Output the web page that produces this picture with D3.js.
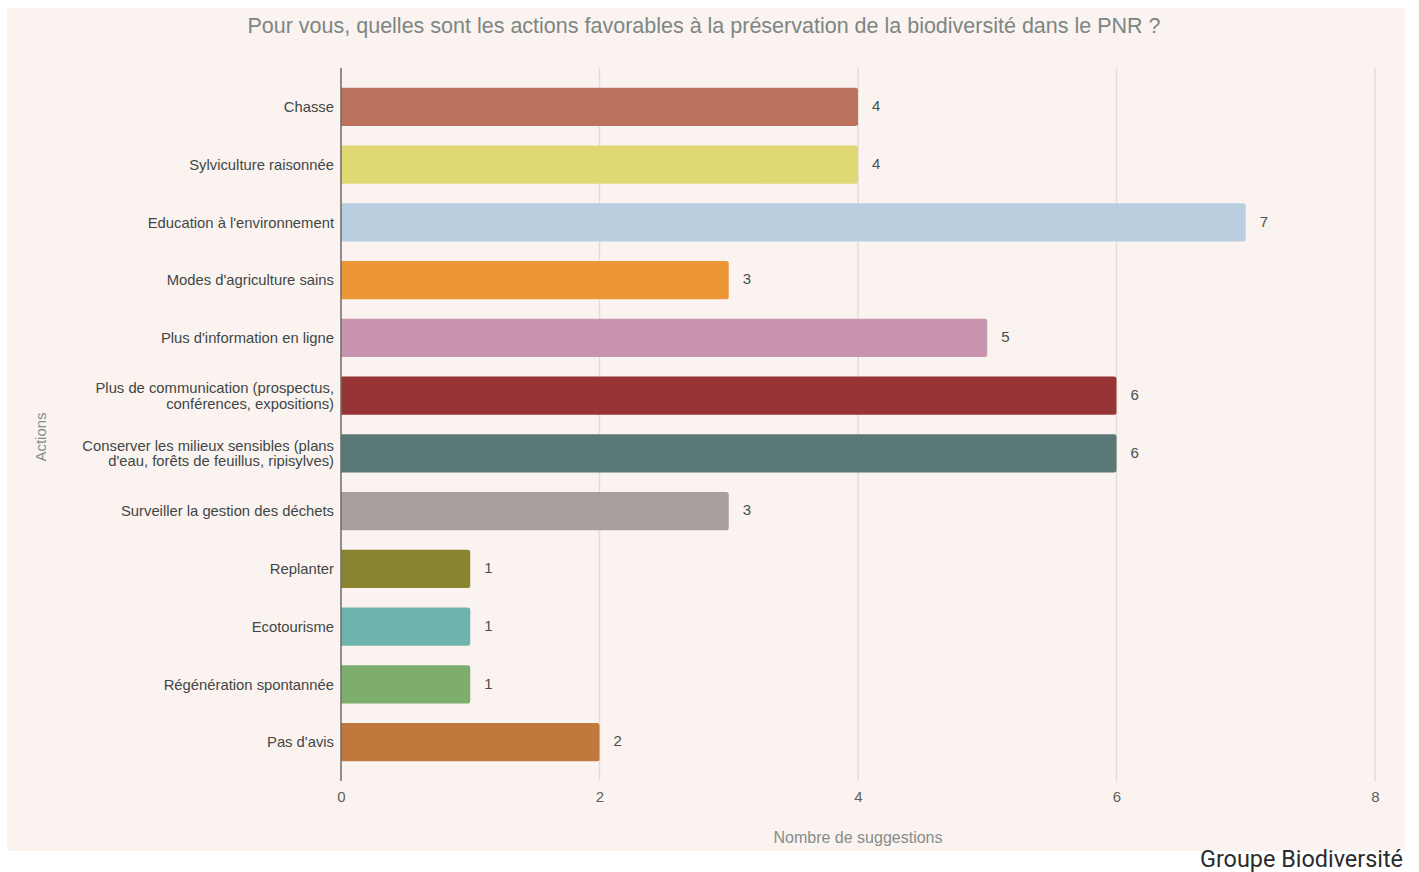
<!DOCTYPE html>
<html>
<head>
<meta charset="utf-8">
<script src="https://cdn.jsdelivr.net/npm/d3@7"></script>
<style>
  html, body { margin: 0; padding: 0; background: #ffffff; }
  svg { display: block; }
</style>
</head>
<body>
<svg id="chart" width="1419" height="872"></svg>
<script>
const categories = [
  "Chasse",
  "Sylviculture raisonnée",
  "Education à l'environnement",
  "Modes d'agriculture sains",
  "Plus d'information en ligne",
  "Plus de communication (prospectus,\nconférences, expositions)",
  "Conserver les milieux sensibles (plans\nd'eau, forêts de feuillus, ripisylves)",
  "Surveiller la gestion des déchets",
  "Replanter",
  "Ecotourisme",
  "Régénération spontannée",
  "Pas d'avis"
];
const values = [4, 4, 7, 3, 5, 6, 6, 3, 1, 1, 1, 2];
const colors = [
  "#bd7260", "#e0d872", "#b9cfe0", "#ec9637", "#c994b0", "#973536",
  "#5a7875", "#a89e9c", "#8a8330", "#6fb4ac", "#7eae6d", "#c1783c"
];
const xTicks = [0, 2, 4, 6, 8];

const title = "Pour vous, quelles sont les actions favorables à la préservation de la biodiversité dans le PNR ?";
const xTitle = "Nombre de suggestions";
const yTitle = "Actions";
const credit = "Groupe Biodiversité";

const svg = d3.select("#chart");
const font = "'Liberation Sans', Arial, Helvetica, sans-serif";

// panel background
svg.append("rect")
  .attr("x", 7).attr("y", 8).attr("width", 1398).attr("height", 843)
  .attr("fill", "#fbf3f0");

const x = d3.scaleLinear().domain([0, 8]).range([341, 1375]);
const y = d3.scaleBand().domain(categories).range([78, 771]).paddingInner(0.34).paddingOuter(0.17);

const plotTop = 68, plotBottom = 781;

// vertical gridlines
svg.append("g").selectAll("line").data(xTicks.filter(d => d > 0)).join("line")
  .attr("x1", d => x(d)).attr("x2", d => x(d))
  .attr("y1", plotTop).attr("y2", plotBottom)
  .attr("stroke", "#e2dcda").attr("stroke-width", 1.5);

// x axis tick labels
const xAxis = d3.axisBottom(x).tickValues(xTicks).tickSize(0).tickPadding(10);
const gx = svg.append("g").attr("transform", `translate(0,${plotBottom})`).call(xAxis);
gx.select(".domain").remove();
gx.selectAll("text").attr("font-family", font).attr("font-size", 15).attr("fill", "#5a605e");

// bars, with a slight rounding on the value end
svg.append("g").selectAll("path").data(categories).join("path")
  .attr("d", (d, i) => {
    const x0 = x(0), x1 = x(values[i]), y0 = y(d), h = y.bandwidth(), r = 2.5;
    return `M${x0},${y0}H${x1 - r}Q${x1},${y0} ${x1},${y0 + r}V${y0 + h - r}Q${x1},${y0 + h} ${x1 - r},${y0 + h}H${x0}Z`;
  })
  .attr("fill", (d, i) => colors[i]);

// value labels
svg.append("g").selectAll("text").data(categories).join("text")
  .attr("x", (d, i) => x(values[i]) + 14)
  .attr("y", d => y(d) + y.bandwidth() / 2 - 1)
  .attr("dy", "0.35em")
  .attr("font-family", font).attr("font-size", 15).attr("fill", "#4a4f4e")
  .text((d, i) => values[i]);

// y axis line
svg.append("line")
  .attr("x1", x(0)).attr("x2", x(0)).attr("y1", plotTop).attr("y2", plotBottom)
  .attr("stroke", "#6e6a69").attr("stroke-width", 1.5);

// category labels
const cat = svg.append("g").selectAll("text").data(categories).join("text")
  .attr("text-anchor", "end")
  .attr("font-family", font).attr("font-size", 14.8).attr("fill", "#3f4745")
  .attr("transform", d => `translate(334,${y(d) + y.bandwidth() / 2})`);
cat.each(function(d) {
  const lines = d.split("\n");
  const t = d3.select(this);
  lines.forEach((ln, k) => {
    t.append("tspan").attr("x", 0)
      .attr("y", (k - (lines.length - 1) / 2) * 15.5)
      .attr("dy", "0.35em").text(ln);
  });
});

// titles
svg.append("text")
  .attr("x", 704).attr("y", 33).attr("text-anchor", "middle")
  .attr("font-family", font).attr("font-size", 21.5).attr("fill", "#7d8683")
  .text(title);

svg.append("text")
  .attr("x", 858).attr("y", 843).attr("text-anchor", "middle")
  .attr("font-family", font).attr("font-size", 16).attr("fill", "#858d8a")
  .text(xTitle);

svg.append("text")
  .attr("transform", "translate(46,437) rotate(-90)").attr("text-anchor", "middle")
  .attr("font-family", font).attr("font-size", 15).attr("fill", "#858d8a")
  .text(yTitle);

svg.append("text")
  .attr("x", 1403).attr("y", 867).attr("text-anchor", "end")
  .attr("font-family", "Roboto, sans-serif").attr("font-size", 23.4).attr("fill", "#2b2b2b")
  .text(credit);
</script>
</body>
</html>
